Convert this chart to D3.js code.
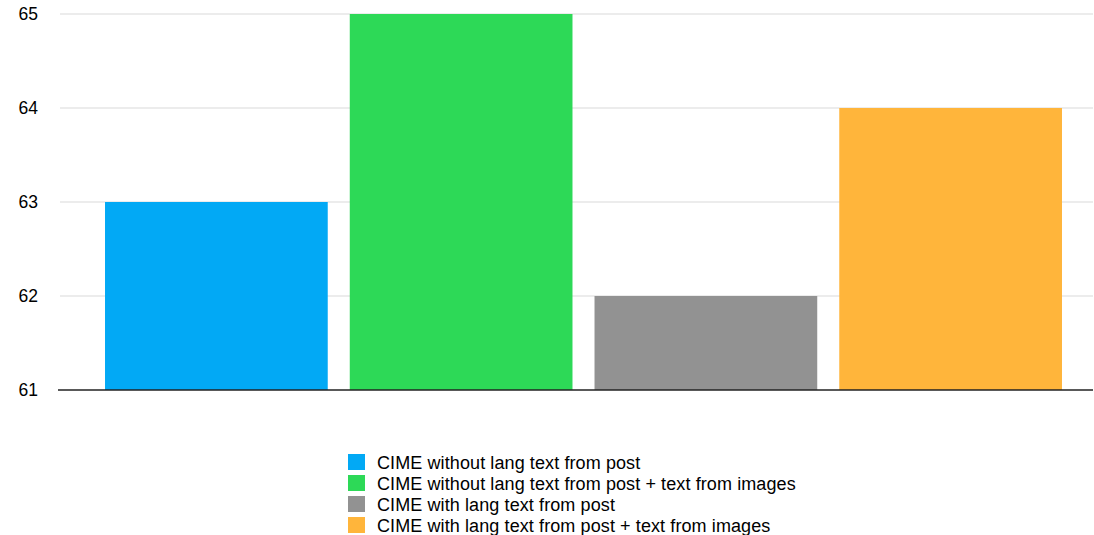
<!DOCTYPE html>
<html>
<head>
<meta charset="utf-8">
<script src="https://cdn.jsdelivr.net/npm/d3@7/dist/d3.min.js"></script>
<style>
  html, body { margin: 0; padding: 0; background: #fff; }
  svg { display: block; font-family: "Liberation Sans", Arial, Helvetica, sans-serif; }
</style>
</head>
<body>
<svg id="chart" width="1094" height="535"></svg>
<script>
// Scores per configuration
const categories = [
  "CIME without lang text from post",
  "CIME without lang text from post + text from images",
  "CIME with lang text from post",
  "CIME with lang text from post + text from images"
];
const values = [63, 65, 62, 64];
const colors = ["#02A9F5", "#2DD957", "#929292", "#FFB53B"];
const yTicks = [61, 62, 63, 64, 65];

const svg = d3.select("#chart");

const x = d3.scaleBand()
  .domain(categories)
  .range([94, 1073])
  .paddingInner(0.09)
  .paddingOuter(0.045);

const y = d3.scaleLinear()
  .domain([61, 65])
  .range([390, 14]);

// Horizontal gridlines
svg.append("g")
  .selectAll("line")
  .data(yTicks.filter(t => t !== 61))
  .join("line")
  .attr("x1", 60)
  .attr("x2", 1093)
  .attr("y1", d => y(d))
  .attr("y2", d => y(d))
  .attr("stroke", "#d9d9d9")
  .attr("stroke-width", 1);

// Y tick labels
svg.append("g")
  .selectAll("text")
  .data(yTicks)
  .join("text")
  .attr("x", 38)
  .attr("y", d => y(d))
  .attr("dy", "0.36em")
  .attr("text-anchor", "end")
  .attr("font-size", 17.5)
  .attr("fill", "#000")
  .text(d => d);

// Bars
svg.append("g")
  .selectAll("rect")
  .data(categories)
  .join("rect")
  .attr("x", d => x(d))
  .attr("width", x.bandwidth())
  .attr("y", (d, i) => y(values[i]))
  .attr("height", (d, i) => y(61) - y(values[i]))
  .attr("fill", (d, i) => colors[i]);

// Baseline
svg.append("line")
  .attr("x1", 58)
  .attr("x2", 1093)
  .attr("y1", y(61))
  .attr("y2", y(61))
  .attr("stroke", "#222")
  .attr("stroke-width", 1.5);

// Legend
const legend = svg.append("g").attr("transform", "translate(348,454)");
const row = legend.selectAll("g")
  .data(categories)
  .join("g")
  .attr("transform", (d, i) => `translate(0,${i * 21})`);
row.append("rect")
  .attr("width", 17)
  .attr("height", 16)
  .attr("fill", (d, i) => colors[i]);
row.append("text")
  .attr("x", 29)
  .attr("y", 8.5)
  .attr("dy", "0.36em")
  .attr("font-size", 18)
  .attr("letter-spacing", 0.1)
  .attr("fill", "#000")
  .text(d => d);
</script>
</body>
</html>
